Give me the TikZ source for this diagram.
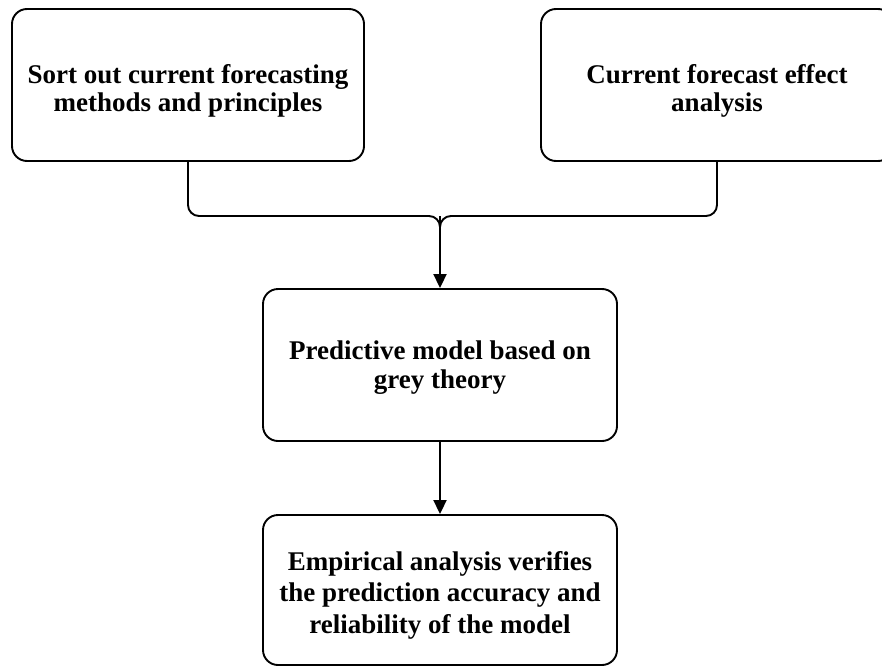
\documentclass[tikz,border=0pt]{standalone}
\usepackage{fontspec}
\setmainfont{Liberation Serif}
\usetikzlibrary{arrows.meta}
\begin{document}
\begin{tikzpicture}[x=1pt,y=-1pt,
  box/.style={draw=black, line width=1.9pt, rounded corners=15pt, minimum width=352pt, minimum height=152pt, inner sep=0pt},
  txt/.style={align=center, font=\fontsize{27}{28.5}\selectfont\bfseries, inner sep=0pt},
  conn/.style={draw=black, line width=1.9pt, rounded corners=11pt},
  arr/.style={draw=black, line width=1.9pt, -{Triangle[width=13pt,length=14pt]}}]
\useasboundingbox (0,0) rectangle (882,666);
\clip (0,0) rectangle (882,666);
\node[box] (A) at (188,85) {};
\node[box] (B) at (717,85) {};
\node[box, minimum width=354pt] (C) at (440,365) {};
\node[box, minimum width=354pt, minimum height=150pt] (D) at (440,590) {};
\node[txt] (At) at ([yshift=-6pt]A.center) {Sort out current forecasting\\methods and principles};
\node[txt] (Bt) at ([yshift=-6pt]B.center) {Current forecast effect\\analysis};
\node[txt, font=\fontsize{27}{29}\selectfont\bfseries] (Ct) at ([yshift=-3pt]C.center) {Predictive model based on\\grey theory};
\node[txt, font=\fontsize{27}{31.5}\selectfont\bfseries] (Dt) at ([yshift=-5pt]D.center) {Empirical analysis verifies\\the prediction accuracy and\\reliability of the model};
\coordinate (j) at (440,216);
\draw[conn] (A.south) |- (j) -- ++(0,14);
\draw[conn] (B.south) |- (j) -- ++(0,14);
\draw[arr] (j) -- (C.north);
\draw[arr] (C.south) -- (D.north);
\end{tikzpicture}
\end{document}
